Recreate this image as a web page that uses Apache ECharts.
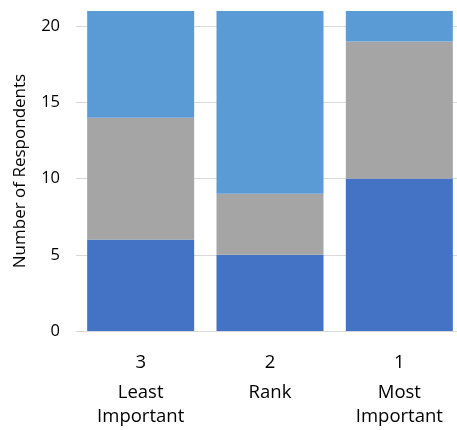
<!DOCTYPE html>
<html>
<head>
<meta charset="utf-8">
<script src="https://cdn.jsdelivr.net/npm/echarts@6/dist/echarts.min.js"></script>
<style>
  html, body { margin: 0; padding: 0; background: #fff; overflow: hidden; }
  /* plot runs slightly past the right edge of the window */
  #chart { width: 464px; height: 430px; }
</style>
</head>
<body>
<div id="chart"></div>
<script>
// Rank positions and their captions
const rankNumbers = ['3', '2', '1'];
const rankCaptions = ['Least\nImportant', 'Rank', 'Most\nImportant'];

// Respondent counts stacked per rank (bottom to top)
const seriesBottom = [6, 5, 10];
const seriesMiddle = [8, 4, 9];
const seriesTop = [7, 12, 2];

const yTicks = [0, 5, 10, 15, 20];

const categories = rankNumbers.map((n, i) => n + '|' + rankCaptions[i]);

const font = 'Open Sans, Liberation Sans, sans-serif';

const chart = echarts.init(document.getElementById('chart'));
const mk = (name, data, color) => ({
  name, type: 'bar', stack: 'all', data,
  barWidth: 107,
  itemStyle: { color },
  emphasis: { disabled: true }
});

chart.setOption({
  animation: false,
  grid: { left: 76, right: 0, top: 11, bottom: 99 },
  xAxis: {
    type: 'category',
    data: categories,
    axisTick: { show: false },
    axisLine: { lineStyle: { color: '#d9d9d9', width: 1 } },
    axisLabel: {
      margin: 14,
      formatter: v => {
        const [n, cap] = v.split('|');
        return ['{n|' + n + '}'].concat(cap.split('\n').map(s => '{t|' + s + '}')).join('\n');
      },
      rich: {
        n: { fontFamily: font, fontSize: 18.5, color: '#000', lineHeight: 36 },
        t: { fontFamily: font, fontSize: 18.5, color: '#000', lineHeight: 24 }
      }
    }
  },
  yAxis: {
    type: 'value',
    min: 0, max: 21, interval: 5,
    name: 'Number of Respondents',
    nameLocation: 'middle',
    nameGap: 47,
    nameTextStyle: { fontFamily: font, fontSize: 17, color: '#000' },
    axisLine: { show: false },
    axisTick: { show: false },
    axisLabel: {
      showMaxLabel: false,
      margin: 16,
      fontFamily: font, fontSize: 16.5, color: '#000',
      formatter: v => (yTicks.includes(v) ? String(v) : '')
    },
    splitLine: {
      lineStyle: { color: ['#d9d9d9', '#d9d9d9', '#d9d9d9', '#d9d9d9', '#d9d9d9', 'rgba(0,0,0,0)'], width: 1 }
    }
  },
  series: [
    mk('Bottom', seriesBottom, '#4472C4'),
    mk('Middle', seriesMiddle, '#A5A5A5'),
    mk('Top', seriesTop, '#5B9BD5')
  ]
});
</script>
</body>
</html>
